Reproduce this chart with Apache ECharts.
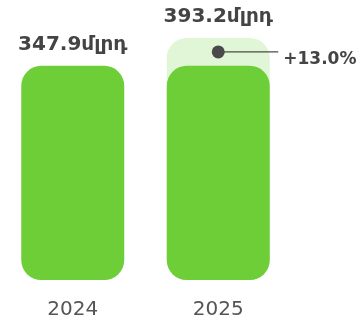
<!DOCTYPE html>
<html>
<head>
<meta charset="utf-8">
<script src="https://cdn.jsdelivr.net/npm/echarts@6/dist/echarts.min.js"></script>
<style>
  html, body { margin: 0; padding: 0; background: #ffffff; }
  #chart { width: 359px; height: 321px; }
</style>
</head>
<body>
<div id="chart"></div>
<script>
// Revenue by year, billions (մլրդ)
const years = ['2024', '2025'];
const baseValues = [347.9, 347.9];      // previous-year level
const totalValues = [null, 393.2];      // current-year total
const valueLabels = ['347.9մլրդ', '393.2մլրդ'];
const growthLabel = '+13.0%';

const GREEN = '#6dce38';
const LIGHT = '#e1f5d7';
const TEXT = '#444444';
const FONT = '"DejaVu Sans", sans-serif';

const chart = echarts.init(document.getElementById('chart'), null, { renderer: 'canvas' });

const topLabel = {
  show: true,
  position: 'top',
  distance: 11,
  color: TEXT,
  fontFamily: FONT,
  fontWeight: 'bold',
  fontSize: 20
};

// growth marker sits halfway up the growth segment
const growthData = years
  .map((y, i) => totalValues[i] == null ? null : [i, (baseValues[i] + totalValues[i]) / 2])
  .filter(d => d);

chart.setOption({
  animation: false,
  grid: { left: -1, top: 3, width: 292, height: 277, containLabel: false },
  xAxis: {
    type: 'category',
    data: years,
    axisLine: { show: false },
    axisTick: { show: false },
    axisLabel: {
      color: '#555555',
      fontFamily: FONT,
      fontSize: 20,
      margin: 20
    }
  },
  yAxis: {
    type: 'value',
    min: 0,
    max: 450,
    show: false,
    splitLine: { show: false }
  },
  series: [
    {
      type: 'bar',
      data: totalValues,
      barWidth: 103,
      barGap: '-100%',
      itemStyle: { color: LIGHT, borderRadius: 20 },
      label: Object.assign({}, topLabel, {
        formatter: p => valueLabels[p.dataIndex]
      }),
      z: 1
    },
    {
      type: 'bar',
      data: baseValues.map((v, i) => ({
        value: v,
        label: { show: totalValues[i] == null }
      })),
      barWidth: 103,
      barGap: '-100%',
      itemStyle: { color: GREEN, borderRadius: 20 },
      label: Object.assign({}, topLabel, {
        formatter: p => valueLabels[p.dataIndex]
      }),
      z: 2
    },
    {
      type: 'custom',
      data: growthData,
      z: 5,
      renderItem: function (params, api) {
        const p = api.coord([api.value(0), api.value(1)]);
        return {
          type: 'group',
          children: [
            {
              type: 'line',
              shape: { x1: p[0], y1: p[1], x2: p[0] + 60, y2: p[1] },
              style: { stroke: '#4a4a4a', lineWidth: 1.4 }
            },
            {
              type: 'circle',
              shape: { cx: p[0], cy: p[1], r: 6.5 },
              style: { fill: '#4a4a4a' }
            },
            {
              type: 'text',
              x: p[0] + 65,
              y: p[1] + 8,
              style: {
                text: growthLabel,
                fill: TEXT,
                font: 'bold 17px "DejaVu Sans", sans-serif',
                verticalAlign: 'middle',
                align: 'left'
              }
            }
          ]
        };
      }
    }
  ]
});
</script>
</body>
</html>
